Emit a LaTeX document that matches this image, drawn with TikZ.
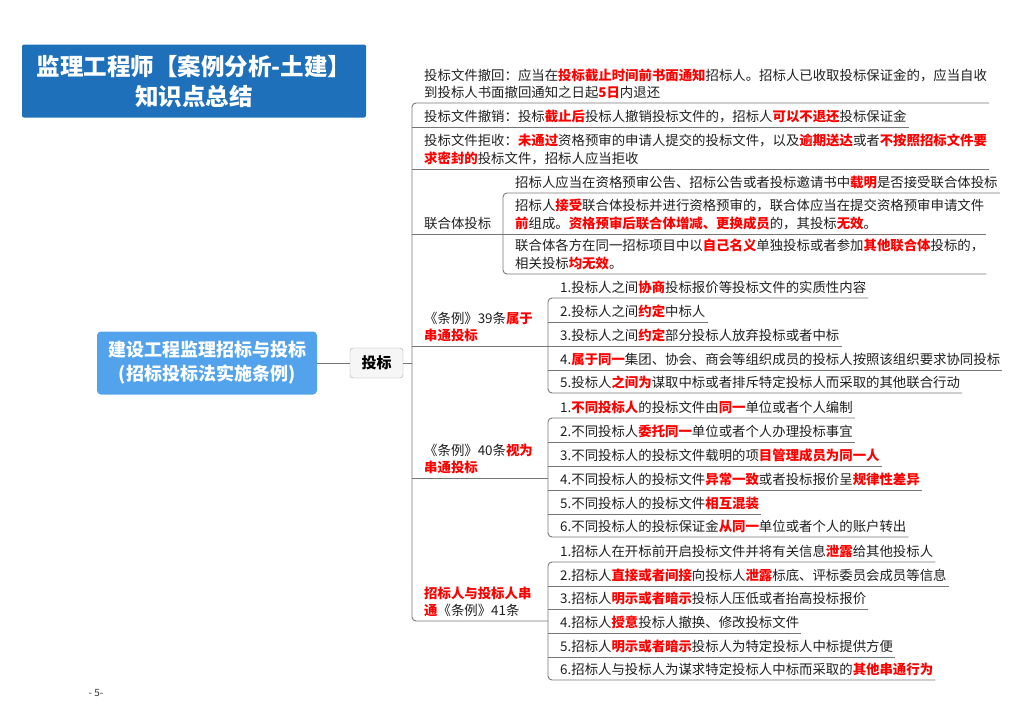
\documentclass[tikz,border=0pt]{standalone}
\usepackage{fontspec}
\setmainfont{Noto Sans CJK SC}
\usetikzlibrary{positioning, calc}
\usepackage{xcolor}

\definecolor{titleblue}{RGB}{30,112,186}
\definecolor{rootblue}{RGB}{82,163,236}
\definecolor{hotred}{RGB}{255,0,0}
\definecolor{linegray}{RGB}{118,118,118}
\newcommand{\hlt}[1]{{\bfseries\color{hotred}#1}}

\tikzset{
  txt/.style={anchor=south west, inner xsep=2pt, inner ysep=4pt, align=left,
    text=black!88, font=\fontsize{13.4}{17.5}\selectfont},
  link/.style={draw=linegray, line width=0.9pt},
}

\begin{document}
\begin{tikzpicture}[x=1pt, y=-1pt]
                \useasboundingbox (0,0) rectangle (1024,724);

                % Title
                \node[fill=titleblue, rounded corners=2pt, minimum width=344pt, minimum height=73pt,
                      text=white, font=\fontsize{23.5}{30}\selectfont\bfseries, align=center]
                      (title) at (194,81) {监理工程师【案例分析-土建】\\知识点总结};

                % Root and first level
                \node[fill=rootblue, rounded corners=4pt, minimum width=220pt, minimum height=63pt,
                      text=white, font=\fontsize{18}{24}\selectfont\bfseries, align=center]
                      (root) at (207,363) {建设工程监理招标与投标\\(招标投标法实施条例)};
                \node[fill=gray!7, draw=gray!70, rounded corners=3pt, minimum width=53pt, minimum height=30pt,
                      font=\fontsize{15}{18}\selectfont\bfseries] (tb) at (376.5,363) {投标};
                \coordinate (trunk) at (412,363);
                \draw[link] (root) -- (tb);
                \draw[link] (tb) -- (trunk);

                % Second level
                \node[txt] (c1) at (422,103) {投标文件撤回：应当在\hlt{投标截止时间前书面通知}招标人。招标人已收取投标保证金的，应当自收\\到投标人书面撤回通知之日起\hlt{5日}内退还};
                \node[txt] (c2) at (422,127) {投标文件撤销：投标\hlt{截止后}投标人撤销投标文件的，招标人\hlt{可以不退还}投标保证金};
                \node[txt] (c3) at (422,169) {投标文件拒收：\hlt{未通过}资格预审的申请人提交的投标文件，以及\hlt{逾期送达}或者\hlt{不按照招标文件要}\\\hlt{求密封的}投标文件，招标人应当拒收};
                \node[txt] (c4) at (422,234) {联合体投标};
                \node[txt] (c5) at (422,346) {《条例》39条\hlt{属于}\\\hlt{串通投标}};
                \node[txt] (c6) at (422,478) {《条例》40条\hlt{视为}\\\hlt{串通投标}};
                \node[txt] (c7) at (422,621) {\hlt{招标人与投标人串}\\\hlt{通}《条例》41条};

                % Joint bid
                \coordinate (s4) at (503,234);
                \node[txt] (c4a) at (513,193) {招标人应当在资格预审公告、招标公告或者投标邀请书中\hlt{载明}是否接受联合体投标};
                \node[txt] (c4b) at (513,234) {招标人\hlt{接受}联合体投标并进行资格预审的，联合体应当在提交资格预审申请文件\\\hlt{前}组成。\hlt{资格预审后联合体增减、更换成员}的，其投标\hlt{无效}。};
                \node[txt] (c4c) at (513,274) {联合体各方在同一招标项目中以\hlt{自己名义}单独投标或者参加\hlt{其他联合体}投标的，\\相关投标\hlt{均无效}。};

                % Article 39
                \coordinate (s5) at (548,346);
                \node[txt] (c51) at (558,298) {1.投标人之间\hlt{协商}投标报价等投标文件的实质性内容};
                \node[txt] (c52) at (558,322) {2.投标人之间\hlt{约定}中标人};
                \node[txt] (c53) at (558,346) {3.投标人之间\hlt{约定}部分投标人放弃投标或者中标};
                \node[txt] (c54) at (558,370) {4.\hlt{属于同一}集团、协会、商会等组织成员的投标人按照该组织要求协同投标};
                \node[txt] (c55) at (558,393) {5.投标人\hlt{之间为}谋取中标或者排斥特定投标人而采取的其他联合行动};

                % Article 40
                \coordinate (s6) at (548,478);
                \node[txt] (c61) at (558,418) {1.\hlt{不同投标人}的投标文件由\hlt{同一}单位或者个人编制};
                \node[txt] (c62) at (558,442) {2.不同投标人\hlt{委托同一}单位或者个人办理投标事宜};
                \node[txt] (c63) at (558,466) {3.不同投标人的投标文件载明的项\hlt{目管理成员为同一人}};
                \node[txt] (c64) at (558,490) {4.不同投标人的投标文件\hlt{异常一致}或者投标报价呈\hlt{规律性差异}};
                \node[txt] (c65) at (558,514) {5.不同投标人的投标文件\hlt{相互混装}};
                \node[txt] (c66) at (558,537) {6.不同投标人的投标保证金\hlt{从同一}单位或者个人的账户转出};

                % Article 41
                \coordinate (s7) at (548,621);
                \node[txt] (c71) at (558,562) {1.招标人在开标前开启投标文件并将有关信息\hlt{泄露}给其他投标人};
                \node[txt] (c72) at (558,586) {2.招标人\hlt{直接或者间接}向投标人\hlt{泄露}标底、评标委员会成员等信息};
                \node[txt] (c73) at (558,609) {3.招标人\hlt{明示或者暗示}投标人压低或者抬高投标报价};
                \node[txt] (c74) at (558,633) {4.招标人\hlt{授意}投标人撤换、修改投标文件};
                \node[txt] (c75) at (558,657) {5.招标人\hlt{明示或者暗示}投标人为特定投标人中标提供方便};
                \node[txt] (c76) at (558,680) {6.招标人与投标人为谋求特定投标人中标而采取的\hlt{其他串通行为}};

                % Connectors
                \draw[link, rounded corners=4pt] (c1.south east) -- (trunk |- c1.south) -- (trunk |- c7.south) -- (s7);
                \foreach \n in {c2,c3}
                    \draw[link] (trunk |- \n.south) -- (\n.south east);
                \draw[link] (trunk |- c4.south) -- (c4b.south east);
                \draw[link] (trunk |- c5.south) -- (c53.south east);
                \draw[link] (trunk |- c6.south) -- (s6);
                \draw[link, rounded corners=4pt] (c4a.south east) -- (s4 |- c4a.south) -- (s4 |- c4c.south) -- (c4c.south east);
                \draw[link, rounded corners=4pt] (c51.south east) -- (s5 |- c51.south) -- (s5 |- c55.south) -- (c55.south east);
                \foreach \n in {c52,c54}
                    \draw[link] (s5 |- \n.south) -- (\n.south east);
                \draw[link, rounded corners=4pt] (c61.south east) -- (s6 |- c61.south) -- (s6 |- c66.south) -- (c66.south east);
                \foreach \n in {c62,c63,c64,c65}
                    \draw[link] (s6 |- \n.south) -- (\n.south east);
                \draw[link, rounded corners=4pt] (c71.south east) -- (s7 |- c71.south) -- (s7 |- c76.south) -- (c76.south east);
                \foreach \n in {c72,c73,c74,c75}
                    \draw[link] (s7 |- \n.south) -- (\n.south east);

                % Page number
                \node[font=\fontsize{10}{10}\selectfont, text=black!80] (pg) at (96,693) {- 5-};
            \end{tikzpicture}
\end{document}
